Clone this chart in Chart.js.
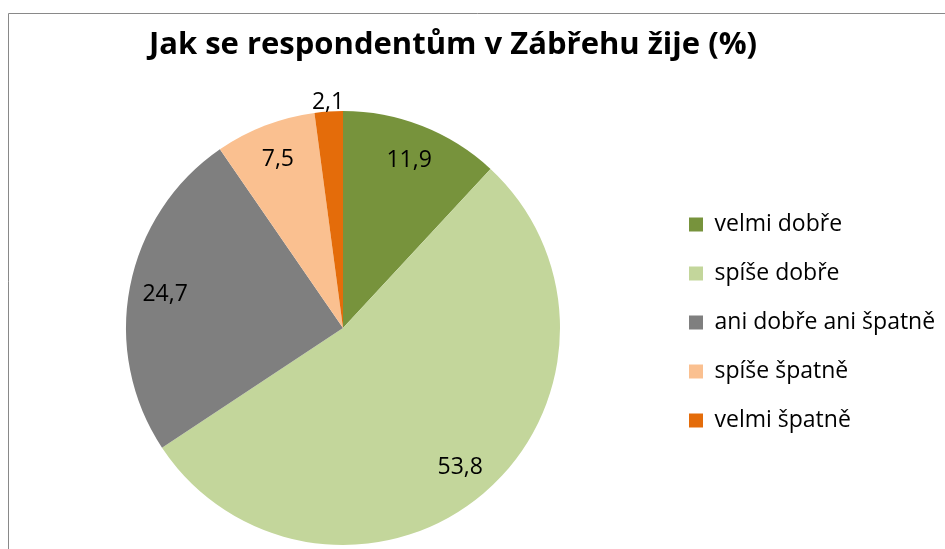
<!DOCTYPE html>
<html>
<head>
<meta charset="utf-8">
<script src="https://cdn.jsdelivr.net/npm/chart.js@4.4.1/dist/chart.umd.min.js"></script>
<style>
	body { margin: 0; background: #fff; }
	#wrap { position: relative; width: 945px; height: 549px; }
</style>
</head>
<body>
<div id="wrap"><canvas id="pie-chart"></canvas></div>
<script>
var chartTitle = 'Jak se respondentům v Zábřehu žije (%)';
var categories = ['velmi dobře', 'spíše dobře', 'ani dobře ani špatně', 'spíše špatně', 'velmi špatně'];
var shares = [11.9, 53.8, 24.7, 7.5, 2.1];
var sliceColors = ['#77933C', '#C3D69B', '#7F7F7F', '#FAC090', '#E46C0A'];

// thin grey frame like the Excel chart area (only top and left visible)
var framePlugin = {
	id: 'frame',
	beforeDraw: function(chart) {
		var ctx = chart.ctx;
		ctx.save();
		ctx.strokeStyle = '#898989';
		ctx.lineWidth = 1;
		ctx.beginPath();
		ctx.moveTo(8.5, chart.height + 5);
		ctx.lineTo(8.5, 13.5);
		ctx.lineTo(chart.width + 5, 13.5);
		ctx.stroke();
		ctx.restore();
	}
};

// the title is centred over the whole chart (pie + legend), not over the plot
var titlePlugin = {
	id: 'topTitle',
	afterDraw: function(chart) {
		var ctx = chart.ctx;
		ctx.save();
		ctx.font = 'bold 31px "Open Sans"';
		ctx.fillStyle = '#000';
		ctx.textAlign = 'center';
		ctx.textBaseline = 'alphabetic';
		ctx.fillText(chartTitle, 453, 54);
		ctx.restore();
	}
};

// value labels, inside the slice or just outside for the small ones
var valueLabels = {
	id: 'valueLabels',
	afterDatasetsDraw: function(chart) {
		var ctx = chart.ctx;
		var meta = chart.getDatasetMeta(0);
		ctx.save();
		ctx.font = '23px "Open Sans"';
		ctx.fillStyle = '#000';
		ctx.textAlign = 'center';
		ctx.textBaseline = 'middle';
		meta.data.forEach(function(arc, i) {
			var p = arc.getProps(['x', 'y', 'startAngle', 'endAngle', 'outerRadius'], true);
			var mid = (p.startAngle + p.endAngle) / 2;
			var value = chart.data.datasets[0].data[i];
			var r = value < 5 ? p.outerRadius + 10 : p.outerRadius * 0.835;
			var text = value.toFixed(1).replace('.', ',');
			ctx.fillText(text, p.x + Math.cos(mid) * r, p.y + Math.sin(mid) * r + 1);
		});
		ctx.restore();
	}
};

var ctxPie = document.getElementById('pie-chart');
var myPieChart = new Chart(ctxPie, {
	type: 'pie',
	data: {
		labels: categories,
		datasets: [{
			data: shares,
			backgroundColor: sliceColors,
			borderWidth: 0
		}]
	},
	options: {
		responsive: true,
		maintainAspectRatio: false,
		animation: false,
		layout: {
			padding: { left: 23, right: 0, top: 111, bottom: 4 }
		},
		plugins: {
			title: { display: false },
			legend: {
				position: 'right',
				align: 'start',
				maxWidth: 282,
				// empty legend title only pushes the items down to their place
				title: { display: true, text: '', padding: { top: 61.6, bottom: 0 } },
				labels: {
					boxWidth: 14,
					boxHeight: 14,
					padding: 26,
					color: '#000',
					font: { family: 'Open Sans', size: 23 }
				}
			},
			tooltip: { enabled: false }
		}
	},
	plugins: [framePlugin, titlePlugin, valueLabels]
});
</script>
</body>
</html>
